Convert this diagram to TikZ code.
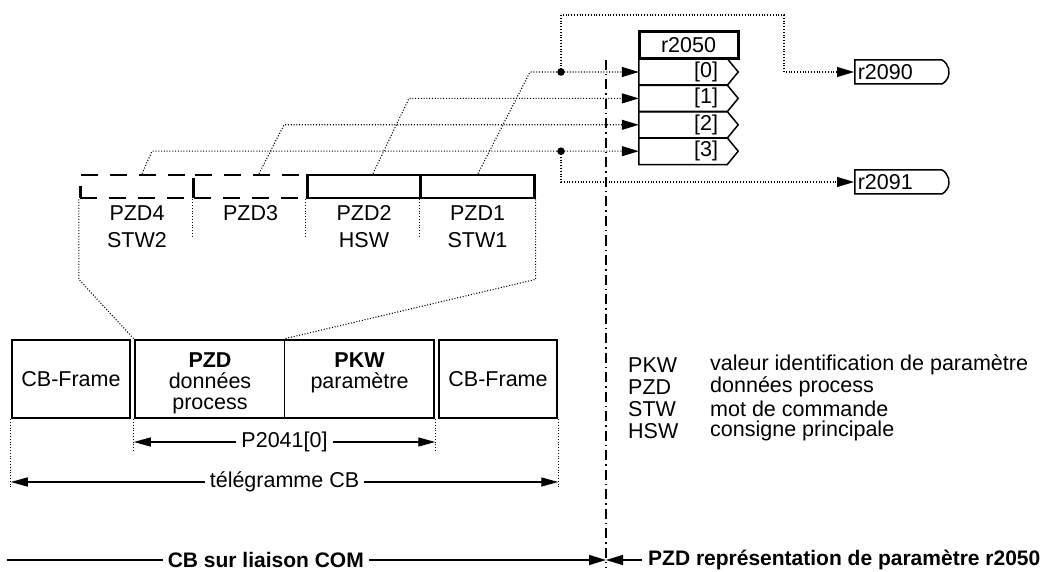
\documentclass[tikz,border=0pt]{standalone}
\usepackage{fontspec}
\setmainfont{Liberation Sans}
\usetikzlibrary{arrows.meta, positioning, shapes.misc}

\begin{document}
\begin{tikzpicture}[x=1pt, y=-1pt,
  font=\fontsize{21.5}{21}\selectfont,
  cbbox/.style={draw, line width=2.5pt, minimum height=78pt, align=center, inner sep=0pt},
  cell/.style={draw, line width=2.8pt, minimum width=113.5pt, minimum height=23pt, inner sep=0pt},
  spare/.style={cell, dash pattern=on 17pt off 12pt},
  celltxt/.style={align=center, inner sep=0pt, font=\fontsize{21.5}{27}\selectfont},
  hdrbox/.style={draw, line width=3pt, minimum width=99pt, minimum height=27pt, inner sep=0pt},
  idxbox/.style={minimum width=88pt, minimum height=26.4pt, text width=70pt, align=right, inner sep=0pt},
  outbox/.style={draw, line width=1.5pt, rounded rectangle, rounded rectangle left arc=none,
    rounded rectangle arc length=120, minimum height=24pt, text width=86pt, align=left,
    inner xsep=3pt, inner ysep=0pt},
  dotline/.style={line width=1.1pt, dash pattern=on 1pt off 1.8pt},
  sig/.style={dotline, -{Triangle[length=17pt, width=10pt]}},
  arr/.style={line width=1.3pt, -{Triangle[length=17pt, width=10pt]}},
  dim/.style={line width=1.3pt, {Triangle[length=17pt, width=9pt]}-{Triangle[length=17pt, width=9pt]}},
  lbl/.style={fill=white, inner xsep=5pt, inner ysep=2pt},
  bold/.style={font=\fontsize{21}{21}\selectfont\bfseries},
  axis/.style={line width=1.2pt, dash pattern=on 10pt off 4pt on 1.5pt off 4pt}
]
\useasboundingbox (0,0) rectangle (1052,572);

% PZD words
\node[spare] (pzd4) at (137,186.5) {};
\node[spare] (pzd3) at (250.5,186.5) {};
\node[cell] (pzd2) at (364,186.5) {};
\node[cell] (pzd1) at (477.5,186.5) {};
\node[celltxt] (t4) at (137,226.5) {PZD4\\STW2};
\node[celltxt] (t3) at (250.5,213) {PZD3};
\node[celltxt] (t2) at (364,226.5) {PZD2\\HSW};
\node[celltxt] (t1) at (477.5,226.5) {PZD1\\STW1};
\foreach \c in {pzd3,pzd2,pzd1}{\draw[dotline] (\c.south west) -- ++(0,38);}

% CB telegram
\node[cbbox, minimum width=118pt] (fl) at (71,379) {CB-Frame};
\node[cbbox, minimum width=299pt] (tel) at (284.5,379) {};
\node[cbbox, minimum width=118pt] (fr) at (498,379) {CB-Frame};
\draw[line width=1pt] (tel.north) -- (tel.south);
\node[align=center, inner sep=0pt] (pzd) at (210,383) {\textbf{PZD}\\données\\process};
\node[align=center, inner sep=0pt] (pkw) at (359.5,372.5) {\textbf{PKW}\\paramètre};

% zoom lines
\draw[dotline] (pzd4.south west) -- ++(0,80) -- (tel.north west);
\draw[dotline] (pzd1.south east) -- ++(0,80) -- (tel.north);

% dimensions
\draw[dotline] (fl.south west) -- ++(0,68);
\draw[dotline] (tel.south west) -- ++(0,31);
\draw[dotline] (tel.south east) -- ++(0,31);
\draw[dotline] (fr.south east) -- ++(0,68);
\draw[dim] (tel.south west |- 0,442) -- node[lbl]{P2041[0]} (tel.south east |- 0,442);
\draw[dim] (fl.south west |- 0,482) -- node[lbl]{télégramme CB} (fr.south east |- 0,482);

% r2050
\node[hdrbox] (hdr) at (688.5,45.5) {r2050};
\foreach \i in {0,...,3}{
  \node[idxbox] (idx\i) at (683,{72+26.4*\i}) {[\i]};
  \draw[line width=1.5pt] (idx\i.north west) -- (idx\i.north east) -- ([xshift=11pt]idx\i.east)
    -- (idx\i.south east) -- (idx\i.south west) -- cycle;
}

% PZD words to r2050
\foreach \s/\b/\i in {478/530/0, 373/409/1, 259/284/2, 142/152/3}{
  \draw[sig] (\s,0 |- pzd1.north) -- (\b,0 |- idx\i.west) -- (idx\i.west);
}

% r2090 / r2091
\node[outbox, anchor=west] (r2090) at (854,72) {r2090};
\node[outbox, anchor=west] (r2091) at (854,182) {r2091};
\coordinate (dot0) at (561,0 |- idx0.west);
\coordinate (dot3) at (561,0 |- idx3.west);
\fill (dot0) circle (3.8pt) (dot3) circle (3.8pt);
\draw[sig] (dot0) |- (784,15) -- (784,0 |- r2090.west) -- (r2090.west);
\draw[sig] (dot3) |- (r2091.west);

% legend
\foreach \k/\d [count=\n from 0] in {PKW/valeur identification de paramètre, PZD/données process,
    STW/mot de commande, HSW/consigne principale}{
  \node[anchor=west, inner sep=0pt] (abbr\n) at (628,{365+22*\n}) {\k};
  \node[anchor=west, inner sep=0pt] (desc\n) at (710,{365+22*\n}) {\d};
}

% border COM / r2050
\coordinate (sep) at (606,560);
\draw[axis] (606,60) -- (606,568);
\draw[arr] (7,560) -- node[lbl, bold, pos=0.432]{CB sur liaison COM} (sep);
\draw[arr] (642,560) -- (sep);
\node[bold, anchor=west, inner sep=0pt] (rep) at (648,560) {PZD représentation de paramètre r2050};
\end{tikzpicture}
\end{document}
